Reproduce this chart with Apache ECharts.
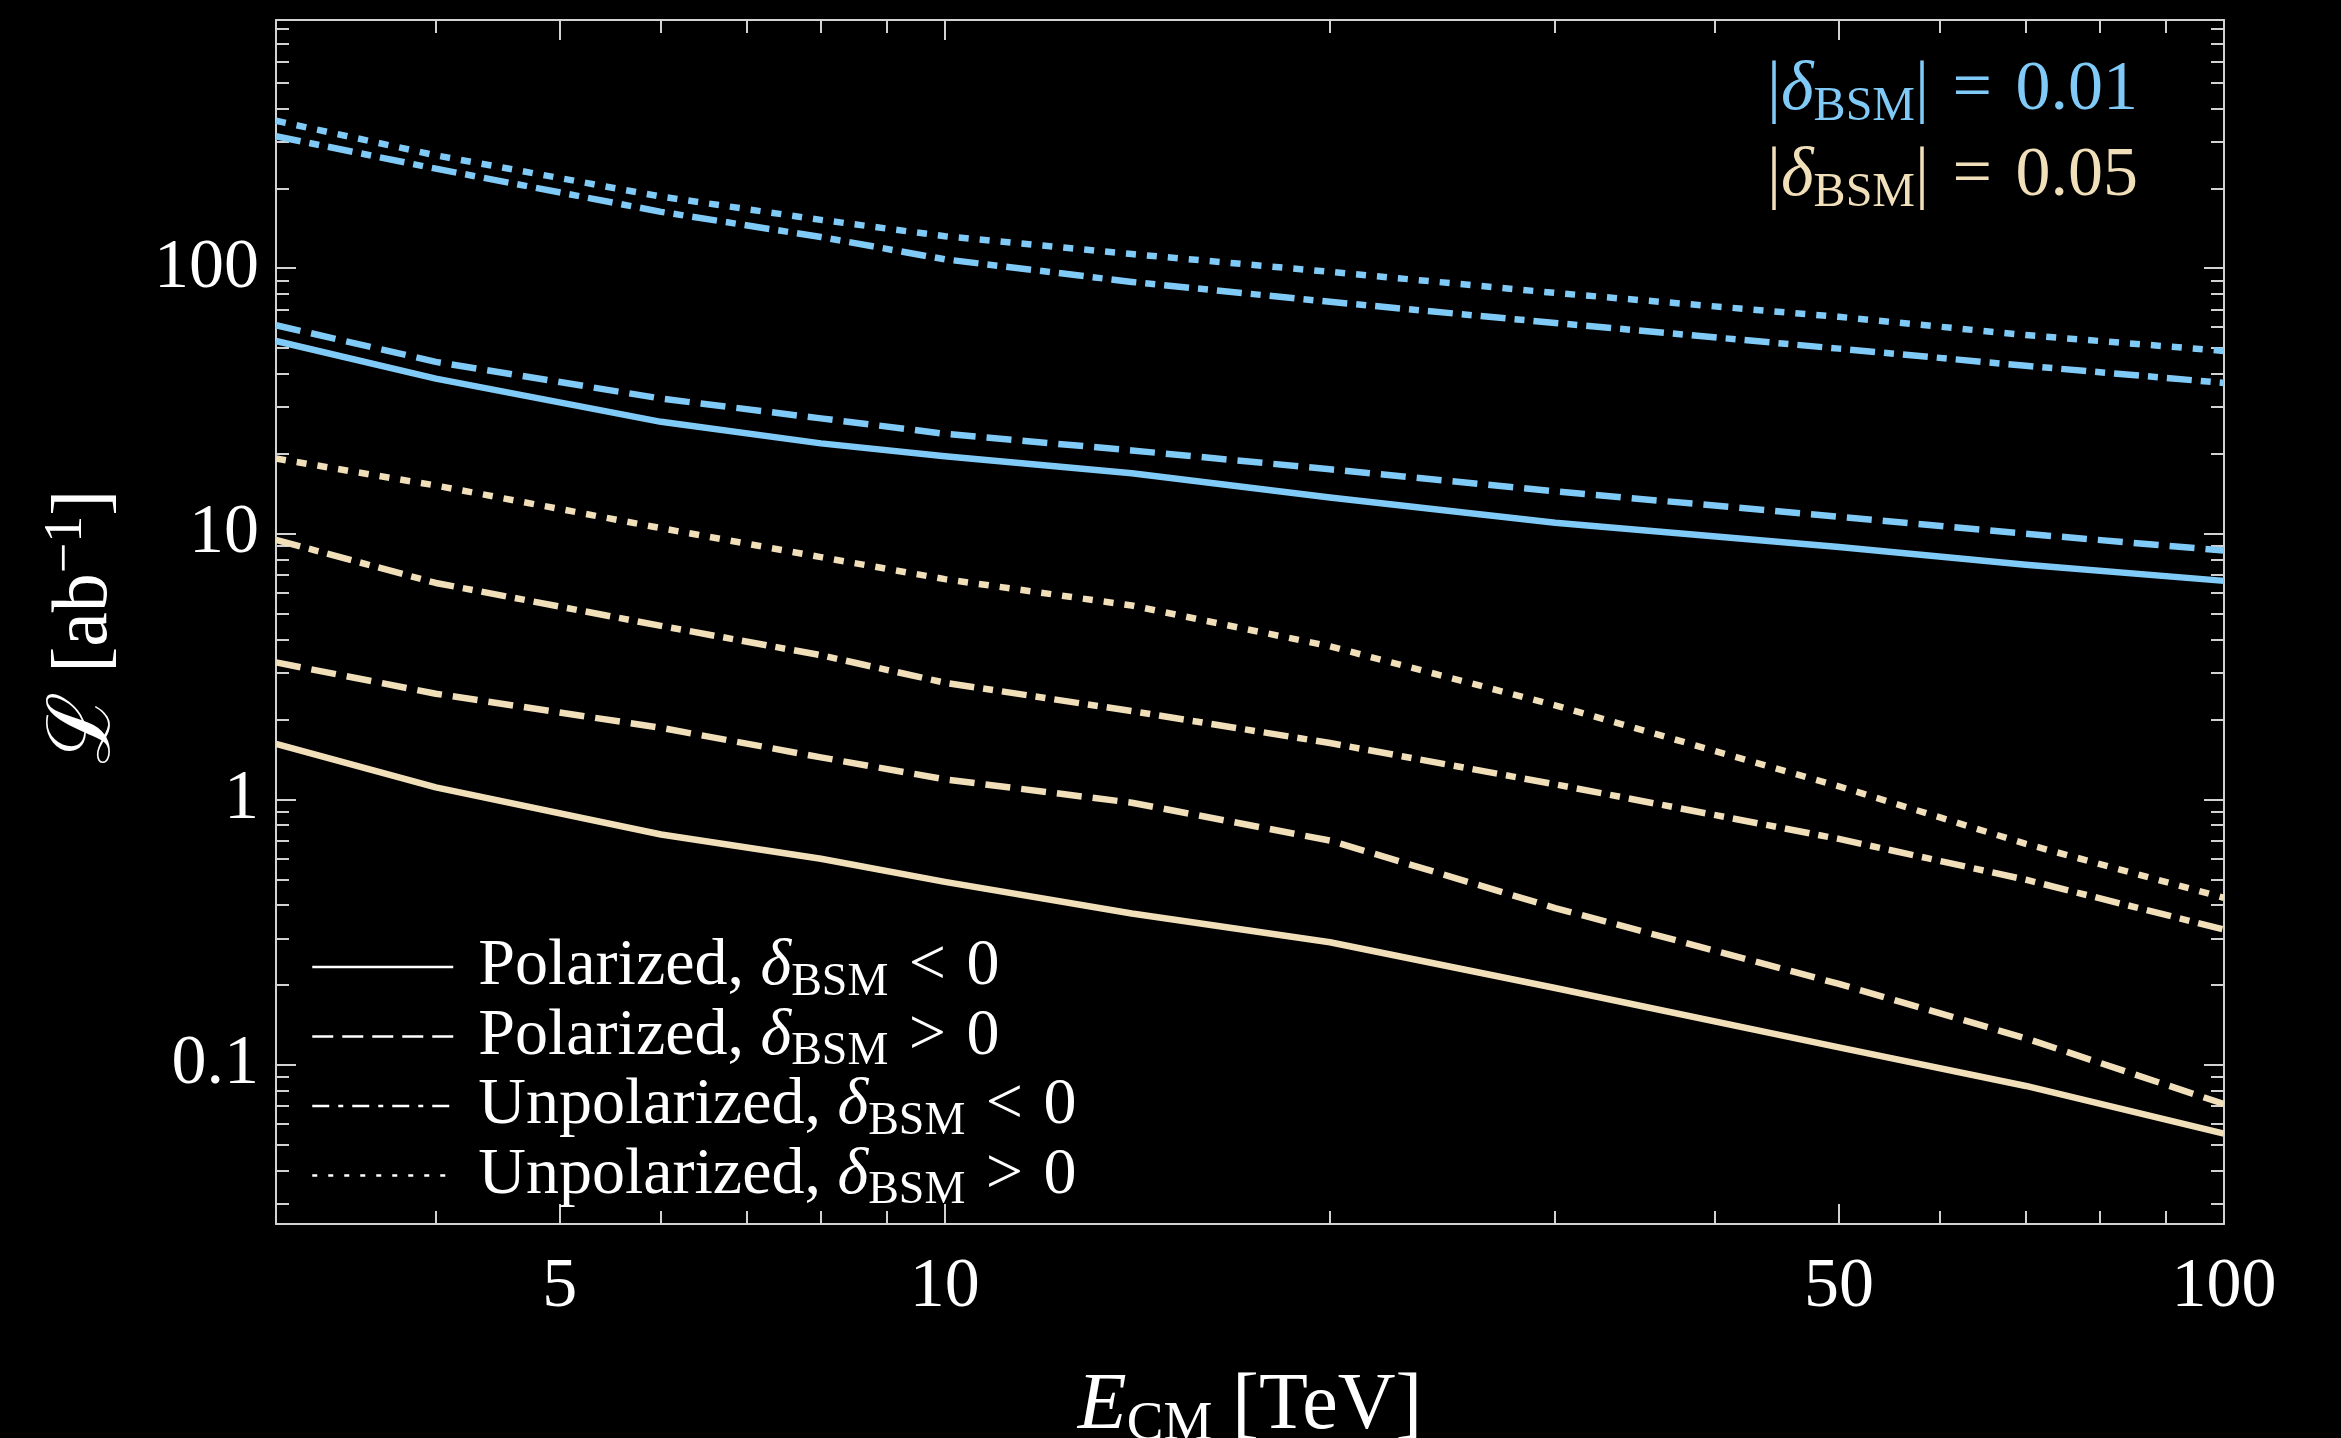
<!DOCTYPE html>
<html>
<head>
<meta charset="utf-8">
<script src="https://cdn.jsdelivr.net/npm/echarts@6/dist/echarts.min.js"></script>
<style>
  html, body { margin: 0; padding: 0; background: #000; }
  #chart { width: 2341px; height: 1438px; }
</style>
</head>
<body>
<div id="chart"></div>
<script>
// Centre-of-mass energies (TeV)
const energy = [3, 4, 6, 8, 10, 14, 20, 30, 50, 70, 100];

// Required integrated luminosity (ab^-1), |δ_BSM| = 0.01
const polNeg01   = [53.2, 38.4, 26.4, 21.9, 19.6, 16.9, 13.7, 11.0, 8.92, 7.65, 6.65];
const polPos01   = [61.0, 44.4, 32.3, 27.2, 23.8, 20.6, 17.5, 14.45, 11.6, 10.0, 8.65];
const unpolNeg01 = [314, 237, 163, 131, 108, 88.8, 74.7, 62.2, 49.8, 42.9, 37.0];
const unpolPos01 = [359, 266, 186, 152, 132, 113, 96.9, 80.7, 65.6, 56.0, 48.8];

// Required integrated luminosity (ab^-1), |δ_BSM| = 0.05
const polNeg05   = [1.62, 1.11, 0.738, 0.598, 0.489, 0.372, 0.29, 0.195, 0.1165, 0.0834, 0.0552];
const polPos05   = [3.28, 2.50, 1.86, 1.44, 1.19, 0.972, 0.70, 0.39, 0.202, 0.126, 0.0713];
const unpolNeg05 = [9.49, 6.53, 4.50, 3.49, 2.75, 2.15, 1.63, 1.14, 0.71, 0.4985, 0.3236];
const unpolPos05 = [19.2, 15.2, 10.5, 8.17, 6.75, 5.37, 3.77, 2.26, 1.12, 0.68, 0.426];

// Tick positions
const xMajorTicks = [5, 10, 50, 100];
const xMinorTicks = [4, 6, 7, 8, 9, 20, 30, 40, 60, 70, 80, 90];
const yMajorTicks = [0.1, 1, 10, 100];
const yMinorTicks = [0.03, 0.04, 0.05, 0.06, 0.07, 0.08, 0.09,
                     0.2, 0.3, 0.4, 0.5, 0.6, 0.7, 0.8, 0.9,
                     2, 3, 4, 5, 6, 7, 8, 9,
                     20, 30, 40, 50, 60, 70, 80, 90,
                     200, 300, 400, 500, 600, 700, 800];

// Curve categories (legend entries)
const curveNames = [
  'Polarized, δBSM < 0',
  'Polarized, δBSM > 0',
  'Unpolarized, δBSM < 0',
  'Unpolarized, δBSM > 0'
];
const curvePrefix = ['Polarized, ', 'Polarized, ', 'Unpolarized, ', 'Unpolarized, '];
const curveSign = ['<', '>', '<', '>'];

const BLUE = '#80caf8';
const CREAM = '#f0dfb9';
const FRAME = '#d2d2d2';
const SERIF = 'Liberation Serif';

const plotDash = ['solid', [25, 11], [25, 9, 10, 9], [10, 11]];
const legendDash = ['solid', [21, 9], [17, 9, 5, 9], [5, 11]];

function curve(name, values, color, dash) {
  return {
    type: 'line',
    name: name,
    data: energy.map((e, i) => [e, values[i]]),
    xAxisIndex: 0,
    yAxisIndex: 0,
    symbol: 'none',
    showSymbol: false,
    lineStyle: { color: color, width: 6.5, type: dash, cap: 'butt', join: 'round' },
    itemStyle: { color: color },
    emphasis: { disabled: true },
    animation: false,
    z: 3
  };
}

const series = [
  curve(curveNames[0], polNeg01, BLUE, plotDash[0]),
  curve(curveNames[1], polPos01, BLUE, plotDash[1]),
  curve(curveNames[2], unpolNeg01, BLUE, plotDash[2]),
  curve(curveNames[3], unpolPos01, BLUE, plotDash[3]),
  curve(curveNames[0], polNeg05, CREAM, plotDash[0]),
  curve(curveNames[1], polPos05, CREAM, plotDash[1]),
  curve(curveNames[2], unpolNeg05, CREAM, plotDash[2]),
  curve(curveNames[3], unpolPos05, CREAM, plotDash[3])
];

function fmtNum(v) { return String(+(+v).toPrecision(6)); }

function axis(kind, position, ticks, tickLen, showLine, showLabel) {
  const isX = kind === 'x';
  return {
    type: 'log',
    logBase: 10,
    min: isX ? 3 : 0.0252,
    max: isX ? 100 : 860,
    position: position,
    axisLine: { show: showLine, onZero: false, lineStyle: { color: FRAME, width: 2 } },
    axisTick: {
      show: true, inside: true, length: tickLen, customValues: ticks,
      lineStyle: { color: FRAME, width: 2 }
    },
    axisLabel: {
      show: showLabel,
      customValues: ticks,
      margin: isX ? 29 : 17,
      color: '#ffffff',
      fontFamily: SERIF,
      fontSize: 70,
      formatter: fmtNum
    },
    minorTick: { show: false },
    splitLine: { show: false },
    minorSplitLine: { show: false },
    axisPointer: { show: false },
    silent: true
  };
}

// Rich styles: plain, italic, subscript, superscript, script letter, spaced relation
function richSet(size, color, subPad, relPad) {
  const sub = Math.round(size * 0.69);
  return {
    t: { fontFamily: SERIF, fontSize: size, color: color, fill: color, lineHeight: size },
    d: { fontFamily: SERIF, fontStyle: 'italic', fontSize: size, color: color, fill: color, lineHeight: size },
    s: { fontFamily: SERIF, fontSize: sub, color: color, fill: color,
         lineHeight: size, height: 12, padding: [subPad, 0, 0, 0] },
    u: { fontFamily: SERIF, fontSize: sub, color: color, fill: color,
         lineHeight: size, height: 12, padding: [0, 0, Math.round(size * 0.5), 0] },
    c: { fontFamily: 'DejaVu Serif', fontSize: Math.round(size * 1.12), color: color, fill: color,
         lineHeight: size },
    r: { fontFamily: SERIF, fontSize: size, color: color, fill: color, lineHeight: size,
         padding: [0, relPad, 0, relPad] }
  };
}

const legendRich = curveNames.map((n, i) =>
  '{t|' + curvePrefix[i] + '}{d|δ}{s|BSM}{t| }{r|' + curveSign[i] + '}{t| 0}');

const chart = echarts.init(document.getElementById('chart'), null, { renderer: 'canvas' });

chart.setOption({
  backgroundColor: '#000000',
  animation: false,
  grid: { left: 276, right: 117, top: 20, bottom: 214, outerBoundsMode: 'none' },
  xAxis: [
    axis('x', 'bottom', xMajorTicks, 20, true, true),
    axis('x', 'bottom', xMinorTicks, 13, false, false),
    axis('x', 'top', xMajorTicks, 20, true, false),
    axis('x', 'top', xMinorTicks, 13, false, false)
  ],
  yAxis: [
    axis('y', 'left', yMajorTicks, 20, true, true),
    axis('y', 'left', yMinorTicks, 13, false, false),
    axis('y', 'right', yMajorTicks, 20, true, false),
    axis('y', 'right', yMinorTicks, 13, false, false)
  ],
  legend: {
    show: true,
    orient: 'vertical',
    left: 311,
    top: 934,
    padding: 0,
    itemWidth: 141,
    itemHeight: 14,
    itemGap: -2,
    selectedMode: false,
    data: curveNames.map((n, i) => ({
      name: n,
      lineStyle: { color: '#ffffff', width: 2.5, type: legendDash[i], cap: 'butt' },
      itemStyle: { opacity: 0 }
    })),
    formatter: name => legendRich[curveNames.indexOf(name)],
    textStyle: {
      color: '#ffffff',
      fontFamily: SERIF,
      fontSize: 66,
      padding: [0, 0, 0, 20],
      rich: richSet(66, '#ffffff', 31, 4)
    }
  },
  graphic: [
    {
      type: 'text', x: 2138, y: 91, silent: true,
      style: {
        text: '{t||}{d|δ}{s|BSM}{t|| }{r|=}{t| 0.01}',
        align: 'right', verticalAlign: 'middle', fill: BLUE,
        rich: richSet(70, BLUE, 33, 6)
      }
    },
    {
      type: 'text', x: 2138, y: 177, silent: true,
      style: {
        text: '{t||}{d|δ}{s|BSM}{t|| }{r|=}{t| 0.05}',
        align: 'right', verticalAlign: 'middle', fill: CREAM,
        rich: richSet(70, CREAM, 33, 6)
      }
    },
    {
      type: 'text', x: 1250, y: 1407, silent: true,
      style: {
        text: '{d|E}{s|CM}{t| [TeV]}',
        align: 'center', verticalAlign: 'middle', fill: '#ffffff',
        rich: richSet(80, '#ffffff', 36, 0)
      }
    },
    {
      type: 'text', x: 86, y: 627, rotation: Math.PI / 2, silent: true,
      style: {
        text: '{c|ℒ}{t| [ab}{u|−1}{t|]}',
        align: 'center', verticalAlign: 'middle', fill: '#ffffff',
        rich: richSet(78, '#ffffff', 35, 0)
      }
    }
  ],
  series: series
});
</script>
</body>
</html>
